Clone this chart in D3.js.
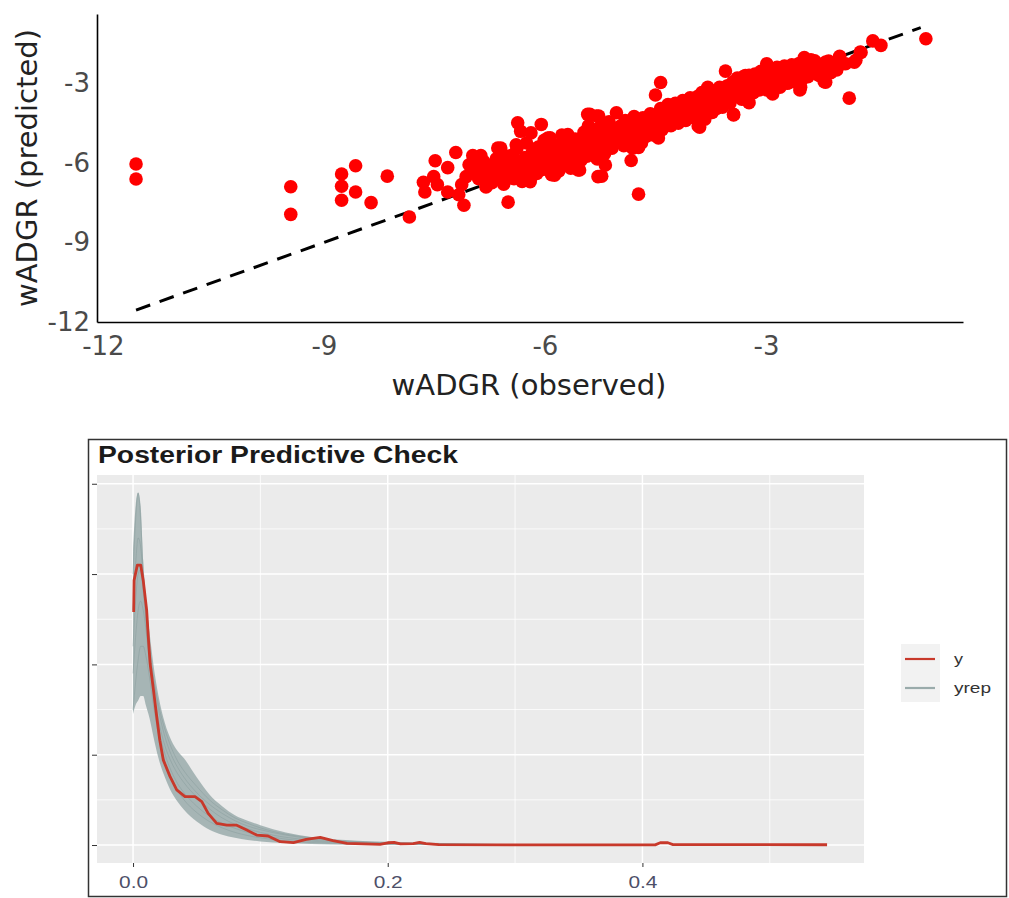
<!DOCTYPE html>
<html>
<head>
<meta charset="utf-8">
<script src="https://cdn.jsdelivr.net/npm/d3@7"></script>
<style>
  body { margin: 0; background: #ffffff; }
  svg { display: block; }
</style>
</head>
<body>
<svg id="fig" width="1009" height="898"></svg>
<script>
// ---- Observed vs predicted wADGR (one [observed, predicted] pair per unit) ----
const wadgr = [
  [-11.55,-6.04],[-11.55,-6.61],[-9.45,-6.9],[-9.45,-7.94],[-8.76,-6.42],[-8.76,-6.88],[-8.76,-7.41],
  [-8.57,-6.11],[-8.57,-7.1],[-8.36,-7.5],[-8.14,-6.5],[-7.84,-8.04],[-7.65,-6.73],[-7.63,-7.1],
  [-7.51,-6.52],[-7.49,-5.92],[-7.46,-6.82],[-7.32,-6.18],[-7.32,-7.1],[-7.21,-5.61],[-7.17,-7.2],
  [-7.1,-7.6],[-7.13,-6.82],[-7.07,-6.52],[-7.03,-6.07],[-6.98,-5.72],[-6.87,-5.72],[-6.85,-6.52],
  [-6.8,-6.82],[-6.76,-6.14],[-6.64,-5.44],
  [-6.98,-6.35],[-6.94,-6.05],[-6.9,-6.6],[-6.86,-6.25],[-6.83,-5.95],[-6.79,-6.5],[-6.75,-6.15],
  [-6.72,-6.75],[-6.68,-6.35],[-6.66,-5.85],[-6.62,-6.55],[-6.59,-6.1],[-6.56,-6.8],[-6.53,-6.3],[-6.51,-5.75],
  [-6.48,-6.45],[-6.46,-6.05],[-6.44,-5.7],[-6.42,-6.6],[-6.4,-6.2],[-6.38,-5.45],[-6.36,-5.95],[-6.34,-6.4],
  [-6.31,-6.7],[-6.29,-6.1],[-6.27,-5.8],[-6.25,-5.25],[-6.23,-6.3],[-6.21,-5.95],[-6.19,-6.55],[-6.17,-5.6],
  [-6.15,-6.15],[-6.13,-5.85],[-6.11,-6.4],[-6.09,-5.4],[-6.07,-6.0],[-6.05,-5.7],[-6.03,-6.25],[-6.01,-5.15],
  [-6.37,-4.49],[-6.33,-4.81],[-6.05,-4.55],[-6.19,-4.87],[-6.39,-5.32],[-6.23,-6.65],[-6.2,-6.71],
  [-6.6,-5.44],[-6.5,-7.48],[-6.55,-6.71],[-6.8,-6.91],
  [-5.99,-5.85],[-5.97,-6.2],[-5.95,-5.5],[-5.93,-5.05],[-5.91,-6.45],[-5.89,-5.7],[-5.87,-6.0],[-5.85,-5.35],
  [-5.83,-5.85],[-5.81,-6.3],[-5.79,-5.55],[-5.77,-4.95],[-5.75,-5.75],[-5.73,-6.05],[-5.71,-5.3],[-5.69,-4.93],
  [-5.67,-5.6],[-5.65,-6.2],[-5.63,-5.45],[-5.61,-5.85],[-5.59,-5.1],[-5.57,-5.65],[-5.55,-6.27],[-5.53,-5.35],
  [-5.51,-5.9],[-5.96,-5.06],[-5.87,-6.46],[-5.42,-4.17],[-5.3,-4.23],[-5.53,-6.27],
  [-5.49,-5.5],[-5.47,-4.85],[-5.45,-5.25],[-5.43,-5.75],[-5.41,-4.6],[-5.39,-5.4],[-5.37,-5.05],[-5.35,-5.6],
  [-5.33,-4.75],[-5.31,-5.2],[-5.29,-5.85],[-5.27,-4.95],[-5.25,-5.35],[-5.23,-4.55],[-5.21,-5.1],[-5.19,-5.65],
  [-5.17,-4.8],[-5.15,-5.25],[-5.13,-4.45],[-5.11,-5.0],[-5.09,-5.45],[-5.07,-4.7],[-5.05,-5.15],[-5.03,-4.11],
  [-5.01,-4.85],[-5.39,-4.17],[-5.27,-4.23],[-5.23,-6.5],[-5.18,-6.08],[-5.28,-6.52],
  [-4.99,-5.1],[-4.97,-4.6],[-4.95,-4.95],[-4.93,-5.35],[-4.91,-4.4],[-4.89,-4.8],[-4.87,-5.15],[-4.85,-4.55],
  [-4.83,-4.95],[-4.81,-5.45],[-4.79,-4.25],[-4.77,-4.7],[-4.75,-5.05],[-4.73,-4.45],[-4.71,-4.85],[-4.69,-5.25],
  [-4.67,-4.3],[-4.65,-4.65],[-4.63,-5.0],[-4.61,-4.45],[-4.59,-4.8],[-4.57,-4.15],[-4.55,-4.6],[-4.53,-4.95],
  [-4.51,-4.35],[-4.83,-5.91],[-4.73,-5.42],[-4.73,-7.18],[-4.47,-5.0],[-4.46,-5.06],[-4.5,-3.44],[-4.43,-2.97],
  [-4.49,-4.7],[-4.47,-4.2],[-4.45,-4.5],[-4.43,-3.95],[-4.41,-4.75],[-4.39,-4.35],[-4.37,-4.05],[-4.35,-4.55],
  [-4.33,-3.8],[-4.31,-4.25],[-4.29,-4.6],[-4.27,-4.0],[-4.25,-4.35],[-4.23,-3.75],[-4.21,-4.15],[-4.19,-4.5],
  [-4.17,-3.95],[-4.15,-4.25],[-4.13,-3.65],[-4.11,-4.05],[-4.09,-4.4],[-4.07,-3.85],[-4.05,-4.15],[-4.03,-3.55],
  [-4.01,-3.95],[-4.14,-3.73],
  [-3.99,-4.3],[-3.97,-3.8],[-3.95,-4.05],[-3.93,-3.5],[-3.91,-4.2],[-3.89,-3.75],[-3.87,-3.35],[-3.85,-3.95],
  [-3.83,-4.35],[-3.81,-3.6],[-3.79,-3.15],[-3.77,-3.85],[-3.75,-3.5],[-3.73,-4.1],[-3.71,-3.3],[-3.69,-3.7],
  [-3.67,-3.95],[-3.65,-3.4],[-3.63,-3.15],[-3.61,-3.65],[-3.59,-3.9],[-3.57,-3.3],[-3.55,-3.55],[-3.53,-3.1],
  [-3.51,-3.45],[-3.9,-4.65],[-3.92,-4.61],[-3.55,-2.54],
  [-3.49,-3.75],[-3.47,-3.3],[-3.45,-2.95],[-3.43,-3.5],[-3.41,-3.15],[-3.39,-2.8],[-3.37,-3.4],[-3.35,-3.05],
  [-3.33,-3.6],[-3.31,-2.75],[-3.29,-3.2],[-3.27,-2.95],[-3.25,-3.45],[-3.23,-2.7],[-3.21,-3.1],[-3.19,-2.85],
  [-3.17,-3.35],[-3.15,-2.65],[-3.13,-3.0],[-3.11,-2.8],[-3.09,-3.25],[-3.07,-2.55],[-3.05,-2.95],[-3.03,-2.7],
  [-3.01,-3.1],[-3.44,-4.17],[-3.44,-4.19],[-3.23,-3.73],[-3.25,-3.66],[-3.51,-3.09],[-3.14,-2.77],[-3.28,-2.71],
  [-3.26,-2.83],
  [-2.99,-3.25],[-2.97,-2.6],[-2.95,-2.9],[-2.93,-2.45],[-2.91,-3.1],[-2.89,-2.7],[-2.87,-2.95],[-2.85,-2.4],
  [-2.83,-2.8],[-2.81,-3.15],[-2.79,-2.55],[-2.77,-2.85],[-2.75,-2.35],[-2.73,-2.7],[-2.71,-3.0],[-2.69,-2.5],
  [-2.67,-2.8],[-2.65,-2.3],[-2.63,-2.65],[-2.61,-2.95],[-2.59,-2.45],[-2.57,-2.75],[-2.55,-2.25],[-2.53,-2.6],
  [-2.51,-2.85],[-2.99,-2.26],[-2.91,-3.4],[-2.89,-3.21],[-2.69,-2.52],[-2.54,-3.25],[-2.53,-3.15],[-2.73,-2.9],
  [-2.49,-2.5],[-2.46,-2.2],[-2.43,-2.75],[-2.4,-2.35],[-2.37,-2.6],[-2.34,-2.15],[-2.31,-2.45],[-2.28,-2.7],
  [-2.25,-2.3],[-2.22,-2.55],[-2.19,-2.2],[-2.16,-2.45],[-2.12,-2.6],[-2.08,-2.3],[-2.04,-2.5],
  [-2.48,-2.03],[-2.39,-2.11],[-2.21,-2.94],[-2.19,-2.96],[-2.32,-2.45],[-2.15,-2.16],[-2.0,-1.98],[-1.96,-2.26],
  [-1.78,-2.13],[-1.72,-1.82],[-1.87,-3.56],[-1.55,-1.4],[-1.44,-1.57],[-0.83,-1.32],[-1.92,-2.26],[-1.8,-2.2],
  [-1.71,-1.84]
];
const scatterTicks = [-12, -9, -6, -3];
const identityLine = [-11.55, -0.9];   // y = x reference, drawn across the observed range

// ---- Posterior predictive density overlay ----
const densGrid  = [0, 0.002, 0.004, 0.006, 0.008, 0.01, 0.013, 0.016, 0.02, 0.025, 0.03, 0.035, 0.04,
                   0.05, 0.06, 0.07, 0.08, 0.09, 0.1, 0.12, 0.14, 0.16, 0.18, 0.2, 0.25, 0.3, 0.33];
const yrepUpper = [32.7, 37.5, 39, 37.5, 31.5, 27.5, 23.5, 20, 16.5, 13.5, 11.6, 10.4, 9.6,
                   7.5, 5.6, 4.3, 3.3, 2.7, 2.2, 1.4, 0.9, 0.6, 0.45, 0.35, 0.2, 0.08, 0.02];
const yrepLower = [14.5, 15.5, 16, 16.5, 16.5, 15.5, 14, 12, 9.6, 7.5, 5.9, 4.8, 3.9,
                   2.6, 1.7, 1.15, 0.8, 0.55, 0.4, 0.22, 0.12, 0.06, 0.03, 0.02, 0.01, 0, 0];
const yrepDraws = [
  [30, 36, 39, 36, 30, 26, 21.5, 18.5, 15.5, 12.8, 10.8, 9.3, 8.2, 6.5, 5.0, 3.9, 3.0, 2.4, 1.9, 1.2, 0.8, 0.5, 0.35, 0.25, 0.12, 0.05, 0.01],
  [22, 27, 30, 30.5, 28, 25, 20.5, 17, 13.8, 11, 9.2, 7.9, 6.9, 5.3, 4.0, 3.0, 2.3, 1.8, 1.4, 0.85, 0.55, 0.35, 0.25, 0.18, 0.08, 0.03, 0],
  [15, 18, 20.5, 22, 22, 21, 18.5, 15.5, 12.2, 9.2, 7.3, 6.0, 5.0, 3.6, 2.6, 1.9, 1.4, 1.05, 0.8, 0.45, 0.28, 0.18, 0.12, 0.09, 0.04, 0.01, 0],
  [26, 31, 34, 33, 29.5, 26.5, 22, 18.5, 15, 12, 10, 8.6, 7.5, 5.8, 4.5, 3.5, 2.7, 2.1, 1.7, 1.1, 0.7, 0.45, 0.3, 0.22, 0.1, 0.04, 0.01],
  [19, 23, 26, 27, 26, 24, 20, 16.5, 13, 10.1, 8.2, 6.8, 5.8, 4.3, 3.2, 2.4, 1.85, 1.4, 1.1, 0.65, 0.42, 0.28, 0.2, 0.15, 0.07, 0.02, 0]
];
const yObserved = [
  [0.0005,25.8],[0.0008,29.3],[0.0034,31],[0.006,31],[0.008,29.3],[0.0107,26],[0.012,23],[0.0134,20.1],
  [0.016,17.2],[0.0186,14.2],[0.021,11.6],[0.0238,9.4],[0.029,7.6],[0.0343,6.1],[0.0408,5.35],[0.0487,5.35],
  [0.054,4.8],[0.059,3.5],[0.0657,2.4],[0.0736,2.2],[0.0814,2.2],[0.0893,1.66],[0.0971,1.1],[0.106,1.0],
  [0.1155,0.37],[0.126,0.26],[0.136,0.63],[0.147,0.85],[0.157,0.48],[0.168,0.19],[0.194,0.08],[0.2,0.25],
  [0.205,0.3],[0.21,0.12],[0.22,0.15],[0.225,0.3],[0.23,0.15],[0.24,0.05],[0.3,0.02],[0.41,0.02],
  [0.414,0.25],[0.42,0.25],[0.424,0.05],[0.545,0.03]
];
const ppcXMajor = [0, 0.2, 0.4];
const ppcXMinor = [0.1, 0.3, 0.5];
const ppcYMajor = [0, 10, 20, 30, 40];
const ppcYMinor = [5, 15, 25, 35];
const legendItems = [{ label: "y", key: "y" }, { label: "yrep", key: "yrep" }];

const COLORS = { point: "#ff0000", y: "#c8392b", yrep: "#9aabab", yrepLine: "#8a9e9e" };

const svg = d3.select("#fig");

// ================= Scatter: predicted vs observed =================
const sx = d3.scaleLinear().domain([-12.08, -0.326]).range([97, 963]);
const sy = d3.scaleLinear().domain([-12, -0.386]).range([322, 14]);

const scatterG = svg.append("g");

scatterG.append("line")
  .attr("x1", sx(identityLine[0])).attr("y1", sy(identityLine[0]))
  .attr("x2", sx(identityLine[1])).attr("y2", sy(identityLine[1]))
  .attr("stroke", "#000").attr("stroke-width", 3).attr("stroke-dasharray", "15,10");

scatterG.append("g").selectAll("circle").data(wadgr).join("circle")
  .attr("cx", d => sx(d[0])).attr("cy", d => sy(d[1])).attr("r", 6.8)
  .attr("fill", COLORS.point);

const hyphen = d => String(d).replace("\u2212", "-");
const yAx = scatterG.append("g").attr("transform", `translate(${sx.range()[0]},0)`)
  .call(d3.axisLeft(sy).tickValues(scatterTicks).tickSize(0).tickPadding(7).tickFormat(hyphen));
const xAx = scatterG.append("g").attr("transform", `translate(0,${sy.range()[0]})`)
  .call(d3.axisBottom(sx).tickValues(scatterTicks).tickSize(0).tickPadding(15).tickFormat(hyphen));
[yAx, xAx].forEach(g => {
  g.select(".domain").attr("stroke", "#000").attr("stroke-width", 1.6);
  g.selectAll("text").attr("font-family", "DejaVu Sans, Verdana, sans-serif")
    .attr("font-size", 26).attr("fill", "#4a4a4a");
});

scatterG.append("text")
  .attr("transform", "translate(37,168) rotate(-90)")
  .attr("text-anchor", "middle")
  .attr("font-family", "DejaVu Sans, Verdana, sans-serif").attr("font-size", 29).attr("fill", "#222")
  .text("wADGR (predicted)");
scatterG.append("text")
  .attr("x", 529).attr("y", 395).attr("text-anchor", "middle")
  .attr("font-family", "DejaVu Sans, Verdana, sans-serif").attr("font-size", 29).attr("fill", "#222")
  .text("wADGR (observed)");

// ================= Posterior predictive check =================
const ppcG = svg.append("g");
ppcG.append("rect").attr("x", 88.5).attr("y", 439.5).attr("width", 918).attr("height", 457)
  .attr("fill", "#fff").attr("stroke", "#333").attr("stroke-width", 1.5);

const px = d3.scaleLinear().domain([-0.0283, 0.574]).range([97, 864]);
const py = d3.scaleLinear().domain([-1.99, 40.97]).range([863, 475]);

ppcG.append("rect").attr("x", px.range()[0]).attr("y", py.range()[1])
  .attr("width", px.range()[1] - px.range()[0]).attr("height", py.range()[0] - py.range()[1])
  .attr("fill", "#ebebeb");

const grid = ppcG.append("g");
grid.selectAll(".vminor").data(ppcXMinor).join("line")
  .attr("x1", px).attr("x2", px).attr("y1", py.range()[1]).attr("y2", py.range()[0])
  .attr("stroke", "#fff").attr("stroke-width", 0.8);
grid.selectAll(".hminor").data(ppcYMinor).join("line")
  .attr("y1", py).attr("y2", py).attr("x1", px.range()[0]).attr("x2", px.range()[1])
  .attr("stroke", "#fff").attr("stroke-width", 0.8);
grid.selectAll(".vmajor").data(ppcXMajor).join("line")
  .attr("x1", px).attr("x2", px).attr("y1", py.range()[1]).attr("y2", py.range()[0])
  .attr("stroke", "#fff").attr("stroke-width", 1.5);
grid.selectAll(".hmajor").data(ppcYMajor).join("line")
  .attr("y1", py).attr("y2", py).attr("x1", px.range()[0]).attr("x2", px.range()[1])
  .attr("stroke", "#fff").attr("stroke-width", 1.5);

// replicated-data envelope and a few individual draws
const band = densGrid.map((x, i) => ({ x, lo: yrepLower[i], hi: yrepUpper[i] }));
ppcG.append("path").datum(band)
  .attr("d", d3.area().x(d => px(d.x)).y0(d => py(d.lo)).y1(d => py(d.hi)).curve(d3.curveMonotoneX))
  .attr("fill", COLORS.yrep).attr("fill-opacity", 0.85);
const drawLine = d3.line().x(d => px(d[0])).y(d => py(d[1])).curve(d3.curveMonotoneX);
ppcG.append("g").selectAll("path").data(yrepDraws).join("path")
  .attr("d", dr => drawLine(dr.map((v, i) => [densGrid[i], v])))
  .attr("fill", "none").attr("stroke", COLORS.yrepLine).attr("stroke-width", 1).attr("stroke-opacity", 0.55);

ppcG.append("path").datum(yObserved)
  .attr("d", d3.line().x(d => px(d[0])).y(d => py(d[1])))
  .attr("fill", "none").attr("stroke", COLORS.y).attr("stroke-width", 2.8).attr("stroke-linejoin", "round");

// axis ticks (no y labels on this panel)
const pxAx = ppcG.append("g").attr("transform", `translate(0,${py.range()[0]})`)
  .call(d3.axisBottom(px).tickValues(ppcXMajor).tickSize(4).tickPadding(6).tickFormat(d3.format(".1f")));
pxAx.select(".domain").remove();
pxAx.selectAll("line").attr("stroke", "#333");
pxAx.selectAll("text").attr("font-family", "Liberation Sans, Arial, sans-serif").attr("font-size", 16)
  .attr("fill", "#4d4f68").attr("dy", "0.95em")
  .attr("textLength", 29).attr("lengthAdjust", "spacingAndGlyphs");
const pyAx = ppcG.append("g").attr("transform", `translate(${px.range()[0]},0)`)
  .call(d3.axisLeft(py).tickValues(ppcYMajor).tickSize(5).tickFormat(""));
pyAx.select(".domain").remove();
pyAx.selectAll("line").attr("stroke", "#333");

ppcG.append("text").attr("x", 98).attr("y", 463)
  .attr("font-family", "Liberation Sans, Arial, sans-serif").attr("font-size", 23).attr("font-weight", "bold")
  .attr("fill", "#1a1a1a").attr("textLength", 360).attr("lengthAdjust", "spacingAndGlyphs")
  .text("Posterior Predictive Check");

// legend
const lg = ppcG.append("g");
lg.append("rect").attr("x", 901).attr("y", 644).attr("width", 39).attr("height", 58).attr("fill", "#f2f2f2");
const legRow = lg.selectAll("g.row").data(legendItems).join("g")
  .attr("transform", (d, i) => `translate(0,${659 + i * 29})`);
legRow.append("line").attr("x1", 905).attr("x2", 935).attr("y1", 0).attr("y2", 0)
  .attr("stroke", d => d.key === "y" ? COLORS.y : COLORS.yrep).attr("stroke-width", 2.2);
legRow.append("text").attr("x", 954).attr("y", 5)
  .attr("font-family", "Liberation Sans, Arial, sans-serif").attr("font-size", 15).attr("fill", "#333")
  .attr("textLength", d => d.label === "yrep" ? 37 : 9).attr("lengthAdjust", "spacingAndGlyphs")
  .text(d => d.label);
</script>
</body>
</html>
